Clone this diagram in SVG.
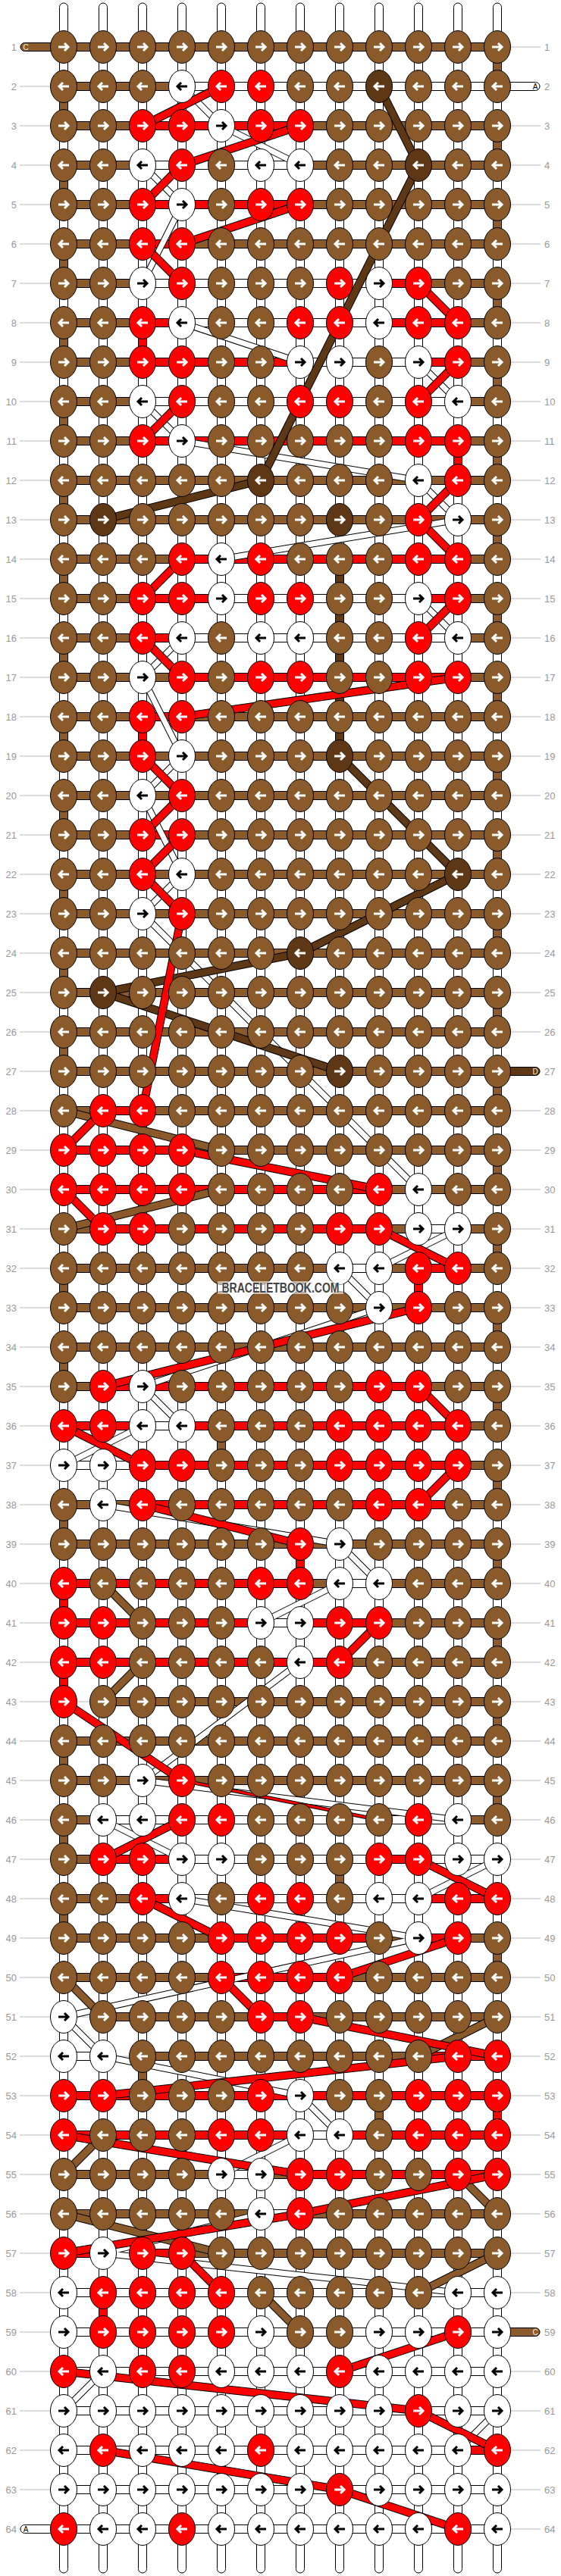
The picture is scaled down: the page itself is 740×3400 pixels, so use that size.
<svg xmlns="http://www.w3.org/2000/svg" xmlns:xlink="http://www.w3.org/1999/xlink" width="740" height="3400" viewBox="0 0 740 3400">
<style>
.k{stroke:#000;stroke-width:1}
.a{fill:none;stroke-width:3}
.hb rect{y:-5.5px;height:11px;stroke:#000;stroke-width:1}
.vs rect{width:11px;height:32px;stroke:#000;stroke-width:1}
.cb{fill:#8B5A2B}.cr{fill:#f00}.cw{fill:#fff}.cd{fill:#5E3715}
.gl{stroke:#bbb;stroke-width:1}
text{font-family:"Liberation Sans",Arial,sans-serif;font-size:13px;fill:#999}
.L{text-anchor:end}
.e{font-size:10px;text-anchor:middle}
</style>
<defs>
<g id="b"><ellipse class="k cb" rx="17.5" ry="21.5"/><path class="a" stroke="#fff" d="M-7 0H6M1-5L6 0L1 5"/></g>
<g id="B"><ellipse class="k cb" rx="17.5" ry="21.5"/><path class="a" stroke="#fff" d="M7 0H-6M-1-5L-6 0L-1 5"/></g>
<g id="r"><ellipse class="k cr" rx="17.5" ry="21.5"/><path class="a" stroke="#fff" d="M-7 0H6M1-5L6 0L1 5"/></g>
<g id="R"><ellipse class="k cr" rx="17.5" ry="21.5"/><path class="a" stroke="#fff" d="M7 0H-6M-1-5L-6 0L-1 5"/></g>
<g id="d"><ellipse class="k cd" rx="17.5" ry="21.5"/><path class="a" stroke="#fff" d="M-7 0H6M1-5L6 0L1 5"/></g>
<g id="D"><ellipse class="k cd" rx="17.5" ry="21.5"/><path class="a" stroke="#fff" d="M7 0H-6M-1-5L-6 0L-1 5"/></g>
<g id="w"><ellipse class="k cw" rx="17.5" ry="21.5"/><path class="a" stroke="#000" d="M-7 0H6M1-5L6 0L1 5"/></g>
<g id="W"><ellipse class="k cw" rx="17.5" ry="21.5"/><path class="a" stroke="#000" d="M7 0H-6M-1-5L-6 0L-1 5"/></g>
<pattern id="lp" width="10" height="52" patternUnits="userSpaceOnUse" y="61.5"><rect width="10" height="1" fill="#bbb"/></pattern>
<g id="gW">
<line x1="240" y1="114" x2="292" y2="166"/><line x1="292" y1="166" x2="396" y2="218"/><line x1="188" y1="218" x2="240" y2="270"/><line x1="240" y1="270" x2="188" y2="374"/><line x1="240" y1="426" x2="396" y2="478"/><line x1="552" y1="478" x2="604" y2="530"/><line x1="188" y1="530" x2="240" y2="582"/><line x1="240" y1="582" x2="552" y2="634"/><line x1="552" y1="634" x2="604" y2="686"/><line x1="604" y1="686" x2="292" y2="738"/><line x1="552" y1="790" x2="604" y2="842"/><line x1="240" y1="842" x2="188" y2="894"/><line x1="188" y1="894" x2="240" y2="998"/><line x1="240" y1="998" x2="188" y2="1050"/><line x1="188" y1="1050" x2="240" y2="1154"/><line x1="240" y1="1154" x2="188" y2="1206"/><line x1="188" y1="1206" x2="292" y2="1310"/><line x1="292" y1="1310" x2="552" y2="1570"/><line x1="604" y1="1622" x2="500" y2="1674"/><line x1="448" y1="1674" x2="500" y2="1726"/><line x1="500" y1="1726" x2="188" y2="1830"/><line x1="188" y1="1830" x2="240" y2="1882"/><line x1="188" y1="1882" x2="84" y2="1934"/><line x1="136" y1="1986" x2="448" y2="2038"/><line x1="448" y1="2038" x2="500" y2="2090"/><line x1="448" y1="2090" x2="344" y2="2142"/><line x1="396" y1="2194" x2="188" y2="2350"/><line x1="188" y1="2350" x2="604" y2="2402"/><line x1="136" y1="2402" x2="240" y2="2454"/><line x1="656" y1="2454" x2="552" y2="2506"/><line x1="240" y1="2506" x2="552" y2="2558"/><line x1="552" y1="2558" x2="84" y2="2662"/><line x1="84" y1="2662" x2="136" y2="2714"/><line x1="136" y1="2714" x2="396" y2="2766"/><line x1="396" y1="2766" x2="448" y2="2818"/><line x1="396" y1="2818" x2="292" y2="2870"/><line x1="344" y1="2922" x2="136" y2="2974"/><line x1="136" y1="2974" x2="604" y2="3026"/><line x1="136" y1="3130" x2="84" y2="3182"/><line x1="656" y1="3182" x2="604" y2="3234"/>
</g>
<g id="gB">
<line x1="84" y1="1466" x2="292" y2="1518"/><line x1="84" y1="1622" x2="292" y2="1570"/><line x1="136" y1="2090" x2="188" y2="2142"/><line x1="188" y1="2194" x2="136" y2="2246"/><line x1="84" y1="2610" x2="136" y2="2662"/><line x1="656" y1="2662" x2="552" y2="2714"/><line x1="136" y1="2818" x2="84" y2="2870"/><line x1="604" y1="2870" x2="656" y2="2922"/><line x1="84" y1="2922" x2="292" y2="2974"/><line x1="656" y1="2974" x2="552" y2="3026"/><line x1="344" y1="3026" x2="396" y2="3078"/>
</g>
<g id="gD">
<polyline points="500,114 552,218 344,634 136,686"/><polyline points="448,998 604,1154 396,1258 136,1310 448,1414"/>
</g>
<g id="gR">
<line x1="188" y1="166" x2="292" y2="114"/><line x1="240" y1="218" x2="396" y2="166"/><line x1="240" y1="218" x2="188" y2="270"/><line x1="240" y1="322" x2="396" y2="270"/><line x1="188" y1="322" x2="240" y2="374"/><line x1="552" y1="374" x2="604" y2="426"/><line x1="604" y1="478" x2="552" y2="530"/><line x1="240" y1="530" x2="188" y2="582"/><line x1="604" y1="634" x2="552" y2="686"/><line x1="552" y1="686" x2="604" y2="738"/><line x1="240" y1="738" x2="188" y2="790"/><line x1="604" y1="790" x2="552" y2="842"/><line x1="188" y1="842" x2="240" y2="894"/><line x1="604" y1="894" x2="240" y2="946"/><line x1="188" y1="998" x2="240" y2="1050"/><line x1="240" y1="1050" x2="188" y2="1102"/><line x1="240" y1="1102" x2="188" y2="1154"/><line x1="188" y1="1154" x2="240" y2="1206"/><line x1="240" y1="1206" x2="188" y2="1466"/><line x1="136" y1="1466" x2="84" y2="1518"/><line x1="240" y1="1518" x2="500" y2="1570"/><line x1="84" y1="1570" x2="136" y2="1622"/><line x1="500" y1="1622" x2="604" y2="1674"/><line x1="552" y1="1726" x2="136" y2="1830"/><line x1="552" y1="1830" x2="604" y2="1882"/><line x1="84" y1="1882" x2="188" y2="1934"/><line x1="604" y1="1934" x2="552" y2="1986"/><line x1="188" y1="1986" x2="396" y2="2038"/><line x1="500" y1="2142" x2="448" y2="2194"/><line x1="84" y1="2246" x2="240" y2="2350"/><line x1="240" y1="2402" x2="136" y2="2454"/><line x1="552" y1="2454" x2="656" y2="2506"/><line x1="188" y1="2506" x2="292" y2="2558"/><line x1="604" y1="2558" x2="448" y2="2610"/><line x1="292" y1="2610" x2="344" y2="2662"/><line x1="396" y1="2662" x2="656" y2="2714"/><line x1="604" y1="2714" x2="136" y2="2766"/><line x1="84" y1="2818" x2="396" y2="2870"/><polyline points="656,2870 396,2922 84,2974"/><line x1="240" y1="2974" x2="292" y2="3026"/><line x1="604" y1="3078" x2="448" y2="3130"/><line x1="84" y1="3130" x2="552" y2="3182"/><line x1="552" y1="3182" x2="656" y2="3234"/><line x1="136" y1="3234" x2="448" y2="3286"/><line x1="448" y1="3286" x2="604" y2="3338"/>
</g>
<g id="gR2"><line x1="240" y1="2350" x2="500" y2="2402"/></g>
</defs>
<rect width="740" height="3400" fill="#fff"/>
<g id="labellines"><rect x="26" y="50" width="44" height="3300" fill="url(#lp)"/><rect x="670" y="50" width="43" height="3300" fill="url(#lp)"/></g>
<g id="strings" fill="#fff" stroke="#000">
<rect x="78.5" y="4" width="11" height="3392" rx="5.5"/><rect x="130.5" y="4" width="11" height="3392" rx="5.5"/><rect x="182.5" y="4" width="11" height="3392" rx="5.5"/><rect x="234.5" y="4" width="11" height="3392" rx="5.5"/><rect x="286.5" y="4" width="11" height="3392" rx="5.5"/><rect x="338.5" y="4" width="11" height="3392" rx="5.5"/><rect x="390.5" y="4" width="11" height="3392" rx="5.5"/><rect x="442.5" y="4" width="11" height="3392" rx="5.5"/><rect x="494.5" y="4" width="11" height="3392" rx="5.5"/><rect x="546.5" y="4" width="11" height="3392" rx="5.5"/><rect x="598.5" y="4" width="11" height="3392" rx="5.5"/><rect x="650.5" y="4" width="11" height="3392" rx="5.5"/>
</g>
<g id="vsegs" class="vs" transform="translate(0.5,0)">
<rect x="650" y="72" class="cb"/><rect x="78" y="124" class="cb"/><rect x="650" y="176" class="cb"/><rect x="78" y="228" class="cb"/><rect x="650" y="280" class="cb"/><rect x="78" y="332" class="cb"/><rect x="650" y="384" class="cb"/><rect x="78" y="436" class="cb"/><rect x="182" y="436" class="cr"/><rect x="650" y="488" class="cb"/><rect x="78" y="540" class="cb"/><rect x="650" y="592" class="cb"/><rect x="598" y="592" class="cr"/><rect x="78" y="644" class="cb"/><rect x="650" y="696" class="cb"/><rect x="78" y="748" class="cb"/><rect x="442" y="748" class="cd"/><rect x="650" y="800" class="cb"/><rect x="442" y="800" class="cd"/><rect x="78" y="852" class="cb"/><rect x="442" y="852" class="cd"/><rect x="650" y="904" class="cb"/><rect x="442" y="904" class="cd"/><rect x="78" y="956" class="cb"/><rect x="182" y="956" class="cr"/><rect x="442" y="956" class="cd"/><rect x="650" y="1008" class="cb"/><rect x="78" y="1060" class="cb"/><rect x="650" y="1112" class="cb"/><rect x="78" y="1164" class="cb"/><rect x="650" y="1216" class="cb"/><rect x="78" y="1268" class="cb"/><rect x="650" y="1320" class="cb"/><rect x="78" y="1372" class="cb"/><rect x="650" y="1424" class="cb"/><rect x="650" y="1528" class="cb"/><rect x="650" y="1632" class="cb"/><rect x="78" y="1684" class="cb"/><rect x="546" y="1684" class="cr"/><rect x="650" y="1736" class="cb"/><rect x="78" y="1788" class="cb"/><rect x="650" y="1840" class="cb"/><rect x="286" y="1892" class="cb"/><rect x="650" y="1944" class="cb"/><rect x="78" y="1996" class="cb"/><rect x="390" y="2048" class="cr"/><rect x="650" y="2048" class="cb"/><rect x="78" y="2100" class="cr"/><rect x="650" y="2152" class="cb"/><rect x="78" y="2204" class="cr"/><rect x="650" y="2256" class="cb"/><rect x="78" y="2308" class="cb"/><rect x="650" y="2360" class="cb"/><rect x="78" y="2412" class="cb"/><rect x="442" y="2464" class="cb"/><rect x="78" y="2516" class="cb"/><rect x="650" y="2568" class="cb"/><rect x="182" y="2724" class="cb"/><rect x="494" y="2776" class="cb"/><rect x="650" y="2776" class="cr"/><rect x="130" y="3036" class="cr"/>
</g>
<g id="bars" class="hb">
<g transform="translate(0,62)"><rect x="27" width="60" rx="5.5" class="cb"/><rect x="84" width="572" class="cb"/><text x="34" y="4" class="e" style="fill:#eee">C</text></g>
<g transform="translate(0,114)"><rect x="84" width="156" class="cb"/><rect x="240" width="416" class="cw"/><rect x="650" width="62" rx="5.5" class="cw"/><text x="706" y="4" class="e" style="fill:#000">A</text></g>
<g transform="translate(0,166)"><rect x="84" width="104" class="cb"/><rect x="188" width="208" class="cr"/><rect x="396" width="260" class="cb"/></g>
<g transform="translate(0,218)"><rect x="84" width="104" class="cb"/><rect x="188" width="208" class="cw"/><rect x="396" width="260" class="cb"/></g>
<g transform="translate(0,270)"><rect x="84" width="104" class="cb"/><rect x="188" width="208" class="cr"/><rect x="396" width="260" class="cb"/></g>
<g transform="translate(0,322)"><rect x="84" width="104" class="cb"/><rect x="188" width="52" class="cr"/><rect x="240" width="416" class="cb"/></g>
<g transform="translate(0,374)"><rect x="84" width="104" class="cb"/><rect x="188" width="312" class="cw"/><rect x="500" width="52" class="cr"/><rect x="552" width="104" class="cb"/></g>
<g transform="translate(0,426)"><rect x="84" width="104" class="cb"/><rect x="188" width="52" class="cr"/><rect x="240" width="260" class="cw"/><rect x="500" width="104" class="cr"/><rect x="604" width="52" class="cb"/></g>
<g transform="translate(0,478)"><rect x="84" width="104" class="cb"/><rect x="188" width="208" class="cr"/><rect x="396" width="156" class="cw"/><rect x="552" width="52" class="cr"/><rect x="604" width="52" class="cb"/></g>
<g transform="translate(0,530)"><rect x="84" width="104" class="cb"/><rect x="188" width="416" class="cw"/><rect x="604" width="52" class="cb"/></g>
<g transform="translate(0,582)"><rect x="84" width="104" class="cb"/><rect x="188" width="416" class="cr"/><rect x="604" width="52" class="cb"/></g>
<g transform="translate(0,634)"><rect x="84" width="572" class="cb"/></g>
<g transform="translate(0,686)"><rect x="84" width="572" class="cb"/></g>
<g transform="translate(0,738)"><rect x="84" width="156" class="cb"/><rect x="240" width="364" class="cr"/><rect x="604" width="52" class="cb"/></g>
<g transform="translate(0,790)"><rect x="84" width="104" class="cb"/><rect x="188" width="104" class="cr"/><rect x="292" width="260" class="cw"/><rect x="552" width="52" class="cr"/><rect x="604" width="52" class="cb"/></g>
<g transform="translate(0,842)"><rect x="84" width="104" class="cb"/><rect x="188" width="52" class="cr"/><rect x="240" width="364" class="cw"/><rect x="604" width="52" class="cb"/></g>
<g transform="translate(0,894)"><rect x="84" width="156" class="cb"/><rect x="240" width="364" class="cr"/><rect x="604" width="52" class="cb"/></g>
<g transform="translate(0,946)"><rect x="84" width="104" class="cb"/><rect x="188" width="52" class="cr"/><rect x="240" width="416" class="cb"/></g>
<g transform="translate(0,998)"><rect x="84" width="572" class="cb"/></g>
<g transform="translate(0,1050)"><rect x="84" width="572" class="cb"/></g>
<g transform="translate(0,1102)"><rect x="84" width="104" class="cb"/><rect x="188" width="52" class="cr"/><rect x="240" width="416" class="cb"/></g>
<g transform="translate(0,1154)"><rect x="84" width="572" class="cb"/></g>
<g transform="translate(0,1206)"><rect x="84" width="572" class="cb"/></g>
<g transform="translate(0,1258)"><rect x="84" width="572" class="cb"/></g>
<g transform="translate(0,1310)"><rect x="84" width="572" class="cb"/></g>
<g transform="translate(0,1362)"><rect x="84" width="572" class="cb"/></g>
<g transform="translate(0,1414)"><rect x="84" width="572" class="cb"/><rect x="650" width="62" rx="5.5" class="cd"/><text x="706" y="4" class="e" style="fill:#eee">D</text></g>
<g transform="translate(0,1466)"><rect x="84" width="52" class="cb"/><rect x="136" width="52" class="cr"/><rect x="188" width="468" class="cb"/></g>
<g transform="translate(0,1518)"><rect x="84" width="156" class="cr"/><rect x="240" width="416" class="cb"/></g>
<g transform="translate(0,1570)"><rect x="84" width="416" class="cr"/><rect x="500" width="156" class="cb"/></g>
<g transform="translate(0,1622)"><rect x="84" width="52" class="cb"/><rect x="136" width="364" class="cr"/><rect x="500" width="52" class="cb"/><rect x="552" width="52" class="cw"/><rect x="604" width="52" class="cb"/></g>
<g transform="translate(0,1674)"><rect x="84" width="364" class="cb"/><rect x="448" width="52" class="cw"/><rect x="500" width="52" class="cb"/><rect x="552" width="52" class="cr"/><rect x="604" width="52" class="cb"/></g>
<g transform="translate(0,1726)"><rect x="84" width="572" class="cb"/></g>
<g transform="translate(0,1778)"><rect x="84" width="572" class="cb"/></g>
<g transform="translate(0,1830)"><rect x="84" width="52" class="cb"/><rect x="136" width="416" class="cr"/><rect x="552" width="104" class="cb"/></g>
<g transform="translate(0,1882)"><rect x="84" width="104" class="cr"/><rect x="188" width="52" class="cw"/><rect x="240" width="364" class="cr"/><rect x="604" width="52" class="cb"/></g>
<g transform="translate(0,1934)"><rect x="84" width="104" class="cw"/><rect x="188" width="416" class="cr"/><rect x="604" width="52" class="cb"/></g>
<g transform="translate(0,1986)"><rect x="84" width="104" class="cb"/><rect x="188" width="416" class="cr"/><rect x="604" width="52" class="cb"/></g>
<g transform="translate(0,2038)"><rect x="84" width="572" class="cb"/></g>
<g transform="translate(0,2090)"><rect x="84" width="312" class="cr"/><rect x="396" width="52" class="cb"/><rect x="448" width="52" class="cw"/><rect x="500" width="156" class="cb"/></g>
<g transform="translate(0,2142)"><rect x="84" width="260" class="cr"/><rect x="344" width="52" class="cw"/><rect x="396" width="104" class="cr"/><rect x="500" width="156" class="cb"/></g>
<g transform="translate(0,2194)"><rect x="84" width="364" class="cr"/><rect x="448" width="208" class="cb"/></g>
<g transform="translate(0,2246)"><line x1="84" x2="136" class="gl"/><rect x="136" width="520" class="cb"/></g>
<g transform="translate(0,2298)"><rect x="84" width="572" class="cb"/></g>
<g transform="translate(0,2350)"><rect x="84" width="572" class="cb"/></g>
<g transform="translate(0,2402)"><rect x="84" width="52" class="cb"/><rect x="136" width="468" class="cw"/><rect x="604" width="52" class="cb"/></g>
<g transform="translate(0,2454)"><rect x="84" width="52" class="cb"/><rect x="136" width="104" class="cr"/><rect x="240" width="260" class="cw"/><rect x="500" width="52" class="cr"/><rect x="552" width="104" class="cw"/></g>
<g transform="translate(0,2506)"><rect x="84" width="104" class="cb"/><rect x="188" width="52" class="cr"/><rect x="240" width="312" class="cw"/><rect x="552" width="104" class="cr"/></g>
<g transform="translate(0,2558)"><rect x="84" width="208" class="cb"/><rect x="292" width="208" class="cr"/><rect x="500" width="52" class="cb"/><rect x="552" width="52" class="cr"/><rect x="604" width="52" class="cb"/></g>
<g transform="translate(0,2610)"><rect x="84" width="208" class="cb"/><rect x="292" width="156" class="cr"/><rect x="448" width="208" class="cb"/></g>
<g transform="translate(0,2662)"><line x1="84" x2="136" class="gl"/><rect x="136" width="208" class="cb"/><rect x="344" width="52" class="cr"/><rect x="396" width="260" class="cb"/></g>
<g transform="translate(0,2714)"><rect x="84" width="52" class="cw"/><line x1="136" x2="188" class="gl"/><rect x="188" width="364" class="cb"/><rect x="552" width="104" class="cr"/></g>
<g transform="translate(0,2766)"><rect x="84" width="572" class="cr"/></g>
<g transform="translate(0,2818)"><rect x="84" width="312" class="cr"/><rect x="396" width="52" class="cw"/><rect x="448" width="208" class="cr"/></g>
<g transform="translate(0,2870)"><rect x="84" width="208" class="cb"/><rect x="292" width="52" class="cw"/><rect x="344" width="52" class="cb"/><rect x="396" width="260" class="cr"/></g>
<g transform="translate(0,2922)"><rect x="84" width="260" class="cb"/><rect x="344" width="52" class="cw"/><rect x="396" width="260" class="cb"/></g>
<g transform="translate(0,2974)"><rect x="84" width="52" class="cr"/><rect x="136" width="52" class="cw"/><rect x="188" width="52" class="cr"/><rect x="240" width="416" class="cb"/></g>
<g transform="translate(0,3026)"><rect x="84" width="572" class="cw"/></g>
<g transform="translate(0,3078)"><rect x="84" width="572" class="cw"/><rect x="650" width="62" rx="5.5" class="cb"/><text x="706" y="4" class="e" style="fill:#eee">C</text></g>
<g transform="translate(0,3130)"><rect x="84" width="572" class="cw"/></g>
<g transform="translate(0,3182)"><rect x="84" width="572" class="cw"/></g>
<g transform="translate(0,3234)"><rect x="84" width="520" class="cw"/><rect x="604" width="52" class="cr"/></g>
<g transform="translate(0,3286)"><rect x="84" width="572" class="cw"/></g>
<g transform="translate(0,3338)"><rect x="27" width="60" rx="5.5" class="cw"/><rect x="84" width="572" class="cw"/><text x="34" y="4" class="e" style="fill:#000">A</text></g>
</g>
<g id="connectors" fill="none" stroke-linejoin="round">
<use href="#gW" stroke="#000" stroke-width="9"/><use href="#gW" stroke="#fff" stroke-width="7"/>
<use href="#gB" stroke="#000" stroke-width="11"/><use href="#gB" stroke="#8B5A2B" stroke-width="9"/>
<use href="#gD" stroke="#000" stroke-width="11"/><use href="#gD" stroke="#5E3715" stroke-width="9"/>
<use href="#gR2" stroke="#000" stroke-width="5"/><use href="#gR2" stroke="#f00" stroke-width="3"/>
<use href="#gR" stroke="#000" stroke-width="11"/><use href="#gR" stroke="#f00" stroke-width="9"/>
</g>
<g id="knots">
<g id="row1" transform="translate(0,62)"><text x="22" y="5" class="L">1</text><text x="718" y="5">1</text><use href="#b" x="84"/><use href="#b" x="136"/><use href="#b" x="188"/><use href="#b" x="240"/><use href="#b" x="292"/><use href="#b" x="344"/><use href="#b" x="396"/><use href="#b" x="448"/><use href="#b" x="500"/><use href="#b" x="552"/><use href="#b" x="604"/><use href="#b" x="656"/></g>
<g id="row2" transform="translate(0,114)"><text x="22" y="5" class="L">2</text><text x="718" y="5">2</text><use href="#B" x="84"/><use href="#B" x="136"/><use href="#B" x="188"/><use href="#W" x="240"/><use href="#R" x="292"/><use href="#R" x="344"/><use href="#B" x="396"/><use href="#B" x="448"/><use href="#D" x="500"/><use href="#B" x="552"/><use href="#B" x="604"/><use href="#B" x="656"/></g>
<g id="row3" transform="translate(0,166)"><text x="22" y="5" class="L">3</text><text x="718" y="5">3</text><use href="#b" x="84"/><use href="#b" x="136"/><use href="#r" x="188"/><use href="#r" x="240"/><use href="#w" x="292"/><use href="#r" x="344"/><use href="#r" x="396"/><use href="#b" x="448"/><use href="#b" x="500"/><use href="#b" x="552"/><use href="#b" x="604"/><use href="#b" x="656"/></g>
<g id="row4" transform="translate(0,218)"><text x="22" y="5" class="L">4</text><text x="718" y="5">4</text><use href="#B" x="84"/><use href="#B" x="136"/><use href="#W" x="188"/><use href="#R" x="240"/><use href="#B" x="292"/><use href="#W" x="344"/><use href="#W" x="396"/><use href="#B" x="448"/><use href="#B" x="500"/><use href="#D" x="552"/><use href="#B" x="604"/><use href="#B" x="656"/></g>
<g id="row5" transform="translate(0,270)"><text x="22" y="5" class="L">5</text><text x="718" y="5">5</text><use href="#b" x="84"/><use href="#b" x="136"/><use href="#r" x="188"/><use href="#w" x="240"/><use href="#b" x="292"/><use href="#r" x="344"/><use href="#r" x="396"/><use href="#b" x="448"/><use href="#b" x="500"/><use href="#b" x="552"/><use href="#b" x="604"/><use href="#b" x="656"/></g>
<g id="row6" transform="translate(0,322)"><text x="22" y="5" class="L">6</text><text x="718" y="5">6</text><use href="#B" x="84"/><use href="#B" x="136"/><use href="#R" x="188"/><use href="#R" x="240"/><use href="#B" x="292"/><use href="#B" x="344"/><use href="#B" x="396"/><use href="#B" x="448"/><use href="#B" x="500"/><use href="#B" x="552"/><use href="#B" x="604"/><use href="#B" x="656"/></g>
<g id="row7" transform="translate(0,374)"><text x="22" y="5" class="L">7</text><text x="718" y="5">7</text><use href="#b" x="84"/><use href="#b" x="136"/><use href="#w" x="188"/><use href="#r" x="240"/><use href="#b" x="292"/><use href="#b" x="344"/><use href="#b" x="396"/><use href="#r" x="448"/><use href="#w" x="500"/><use href="#r" x="552"/><use href="#b" x="604"/><use href="#b" x="656"/></g>
<g id="row8" transform="translate(0,426)"><text x="22" y="5" class="L">8</text><text x="718" y="5">8</text><use href="#B" x="84"/><use href="#B" x="136"/><use href="#R" x="188"/><use href="#W" x="240"/><use href="#B" x="292"/><use href="#B" x="344"/><use href="#R" x="396"/><use href="#R" x="448"/><use href="#W" x="500"/><use href="#R" x="552"/><use href="#R" x="604"/><use href="#B" x="656"/></g>
<g id="row9" transform="translate(0,478)"><text x="22" y="5" class="L">9</text><text x="718" y="5">9</text><use href="#b" x="84"/><use href="#b" x="136"/><use href="#r" x="188"/><use href="#r" x="240"/><use href="#b" x="292"/><use href="#b" x="344"/><use href="#w" x="396"/><use href="#w" x="448"/><use href="#b" x="500"/><use href="#w" x="552"/><use href="#r" x="604"/><use href="#b" x="656"/></g>
<g id="row10" transform="translate(0,530)"><text x="22" y="5" class="L">10</text><text x="718" y="5">10</text><use href="#B" x="84"/><use href="#B" x="136"/><use href="#W" x="188"/><use href="#R" x="240"/><use href="#B" x="292"/><use href="#B" x="344"/><use href="#R" x="396"/><use href="#R" x="448"/><use href="#B" x="500"/><use href="#R" x="552"/><use href="#W" x="604"/><use href="#B" x="656"/></g>
<g id="row11" transform="translate(0,582)"><text x="22" y="5" class="L">11</text><text x="718" y="5">11</text><use href="#b" x="84"/><use href="#b" x="136"/><use href="#r" x="188"/><use href="#w" x="240"/><use href="#b" x="292"/><use href="#b" x="344"/><use href="#b" x="396"/><use href="#b" x="448"/><use href="#b" x="500"/><use href="#r" x="552"/><use href="#r" x="604"/><use href="#b" x="656"/></g>
<g id="row12" transform="translate(0,634)"><text x="22" y="5" class="L">12</text><text x="718" y="5">12</text><use href="#B" x="84"/><use href="#B" x="136"/><use href="#B" x="188"/><use href="#B" x="240"/><use href="#B" x="292"/><use href="#D" x="344"/><use href="#B" x="396"/><use href="#B" x="448"/><use href="#B" x="500"/><use href="#W" x="552"/><use href="#R" x="604"/><use href="#B" x="656"/></g>
<g id="row13" transform="translate(0,686)"><text x="22" y="5" class="L">13</text><text x="718" y="5">13</text><use href="#b" x="84"/><use href="#d" x="136"/><use href="#b" x="188"/><use href="#b" x="240"/><use href="#b" x="292"/><use href="#b" x="344"/><use href="#b" x="396"/><use href="#d" x="448"/><use href="#b" x="500"/><use href="#r" x="552"/><use href="#w" x="604"/><use href="#b" x="656"/></g>
<g id="row14" transform="translate(0,738)"><text x="22" y="5" class="L">14</text><text x="718" y="5">14</text><use href="#B" x="84"/><use href="#B" x="136"/><use href="#B" x="188"/><use href="#R" x="240"/><use href="#W" x="292"/><use href="#R" x="344"/><use href="#B" x="396"/><use href="#B" x="448"/><use href="#B" x="500"/><use href="#R" x="552"/><use href="#R" x="604"/><use href="#B" x="656"/></g>
<g id="row15" transform="translate(0,790)"><text x="22" y="5" class="L">15</text><text x="718" y="5">15</text><use href="#b" x="84"/><use href="#b" x="136"/><use href="#r" x="188"/><use href="#r" x="240"/><use href="#w" x="292"/><use href="#r" x="344"/><use href="#r" x="396"/><use href="#b" x="448"/><use href="#b" x="500"/><use href="#w" x="552"/><use href="#r" x="604"/><use href="#b" x="656"/></g>
<g id="row16" transform="translate(0,842)"><text x="22" y="5" class="L">16</text><text x="718" y="5">16</text><use href="#B" x="84"/><use href="#B" x="136"/><use href="#R" x="188"/><use href="#W" x="240"/><use href="#B" x="292"/><use href="#W" x="344"/><use href="#W" x="396"/><use href="#B" x="448"/><use href="#B" x="500"/><use href="#R" x="552"/><use href="#W" x="604"/><use href="#B" x="656"/></g>
<g id="row17" transform="translate(0,894)"><text x="22" y="5" class="L">17</text><text x="718" y="5">17</text><use href="#b" x="84"/><use href="#b" x="136"/><use href="#w" x="188"/><use href="#r" x="240"/><use href="#b" x="292"/><use href="#r" x="344"/><use href="#r" x="396"/><use href="#b" x="448"/><use href="#b" x="500"/><use href="#r" x="552"/><use href="#r" x="604"/><use href="#b" x="656"/></g>
<g id="row18" transform="translate(0,946)"><text x="22" y="5" class="L">18</text><text x="718" y="5">18</text><use href="#B" x="84"/><use href="#B" x="136"/><use href="#R" x="188"/><use href="#R" x="240"/><use href="#B" x="292"/><use href="#B" x="344"/><use href="#B" x="396"/><use href="#B" x="448"/><use href="#B" x="500"/><use href="#B" x="552"/><use href="#B" x="604"/><use href="#B" x="656"/></g>
<g id="row19" transform="translate(0,998)"><text x="22" y="5" class="L">19</text><text x="718" y="5">19</text><use href="#b" x="84"/><use href="#b" x="136"/><use href="#r" x="188"/><use href="#w" x="240"/><use href="#b" x="292"/><use href="#b" x="344"/><use href="#b" x="396"/><use href="#d" x="448"/><use href="#b" x="500"/><use href="#b" x="552"/><use href="#b" x="604"/><use href="#b" x="656"/></g>
<g id="row20" transform="translate(0,1050)"><text x="22" y="5" class="L">20</text><text x="718" y="5">20</text><use href="#B" x="84"/><use href="#B" x="136"/><use href="#W" x="188"/><use href="#R" x="240"/><use href="#B" x="292"/><use href="#B" x="344"/><use href="#B" x="396"/><use href="#B" x="448"/><use href="#B" x="500"/><use href="#B" x="552"/><use href="#B" x="604"/><use href="#B" x="656"/></g>
<g id="row21" transform="translate(0,1102)"><text x="22" y="5" class="L">21</text><text x="718" y="5">21</text><use href="#b" x="84"/><use href="#b" x="136"/><use href="#r" x="188"/><use href="#r" x="240"/><use href="#b" x="292"/><use href="#b" x="344"/><use href="#b" x="396"/><use href="#b" x="448"/><use href="#b" x="500"/><use href="#b" x="552"/><use href="#b" x="604"/><use href="#b" x="656"/></g>
<g id="row22" transform="translate(0,1154)"><text x="22" y="5" class="L">22</text><text x="718" y="5">22</text><use href="#B" x="84"/><use href="#B" x="136"/><use href="#R" x="188"/><use href="#W" x="240"/><use href="#B" x="292"/><use href="#B" x="344"/><use href="#B" x="396"/><use href="#B" x="448"/><use href="#B" x="500"/><use href="#B" x="552"/><use href="#D" x="604"/><use href="#B" x="656"/></g>
<g id="row23" transform="translate(0,1206)"><text x="22" y="5" class="L">23</text><text x="718" y="5">23</text><use href="#b" x="84"/><use href="#b" x="136"/><use href="#w" x="188"/><use href="#r" x="240"/><use href="#b" x="292"/><use href="#b" x="344"/><use href="#b" x="396"/><use href="#b" x="448"/><use href="#b" x="500"/><use href="#b" x="552"/><use href="#b" x="604"/><use href="#b" x="656"/></g>
<g id="row24" transform="translate(0,1258)"><text x="22" y="5" class="L">24</text><text x="718" y="5">24</text><use href="#B" x="84"/><use href="#B" x="136"/><use href="#B" x="188"/><use href="#B" x="240"/><use href="#B" x="292"/><use href="#B" x="344"/><use href="#D" x="396"/><use href="#B" x="448"/><use href="#B" x="500"/><use href="#B" x="552"/><use href="#B" x="604"/><use href="#B" x="656"/></g>
<g id="row25" transform="translate(0,1310)"><text x="22" y="5" class="L">25</text><text x="718" y="5">25</text><use href="#b" x="84"/><use href="#d" x="136"/><use href="#b" x="188"/><use href="#b" x="240"/><use href="#b" x="292"/><use href="#b" x="344"/><use href="#b" x="396"/><use href="#b" x="448"/><use href="#b" x="500"/><use href="#b" x="552"/><use href="#b" x="604"/><use href="#b" x="656"/></g>
<g id="row26" transform="translate(0,1362)"><text x="22" y="5" class="L">26</text><text x="718" y="5">26</text><use href="#B" x="84"/><use href="#B" x="136"/><use href="#B" x="188"/><use href="#B" x="240"/><use href="#B" x="292"/><use href="#B" x="344"/><use href="#B" x="396"/><use href="#B" x="448"/><use href="#B" x="500"/><use href="#B" x="552"/><use href="#B" x="604"/><use href="#B" x="656"/></g>
<g id="row27" transform="translate(0,1414)"><text x="22" y="5" class="L">27</text><text x="718" y="5">27</text><use href="#b" x="84"/><use href="#b" x="136"/><use href="#b" x="188"/><use href="#b" x="240"/><use href="#b" x="292"/><use href="#b" x="344"/><use href="#b" x="396"/><use href="#d" x="448"/><use href="#b" x="500"/><use href="#b" x="552"/><use href="#b" x="604"/><use href="#b" x="656"/></g>
<g id="row28" transform="translate(0,1466)"><text x="22" y="5" class="L">28</text><text x="718" y="5">28</text><use href="#B" x="84"/><use href="#R" x="136"/><use href="#R" x="188"/><use href="#B" x="240"/><use href="#B" x="292"/><use href="#B" x="344"/><use href="#B" x="396"/><use href="#B" x="448"/><use href="#B" x="500"/><use href="#B" x="552"/><use href="#B" x="604"/><use href="#B" x="656"/></g>
<g id="row29" transform="translate(0,1518)"><text x="22" y="5" class="L">29</text><text x="718" y="5">29</text><use href="#r" x="84"/><use href="#r" x="136"/><use href="#r" x="188"/><use href="#r" x="240"/><use href="#b" x="292"/><use href="#b" x="344"/><use href="#b" x="396"/><use href="#b" x="448"/><use href="#b" x="500"/><use href="#b" x="552"/><use href="#b" x="604"/><use href="#b" x="656"/></g>
<g id="row30" transform="translate(0,1570)"><text x="22" y="5" class="L">30</text><text x="718" y="5">30</text><use href="#R" x="84"/><use href="#R" x="136"/><use href="#R" x="188"/><use href="#R" x="240"/><use href="#B" x="292"/><use href="#B" x="344"/><use href="#B" x="396"/><use href="#B" x="448"/><use href="#R" x="500"/><use href="#W" x="552"/><use href="#B" x="604"/><use href="#B" x="656"/></g>
<g id="row31" transform="translate(0,1622)"><text x="22" y="5" class="L">31</text><text x="718" y="5">31</text><use href="#b" x="84"/><use href="#r" x="136"/><use href="#r" x="188"/><use href="#b" x="240"/><use href="#b" x="292"/><use href="#b" x="344"/><use href="#b" x="396"/><use href="#r" x="448"/><use href="#r" x="500"/><use href="#w" x="552"/><use href="#w" x="604"/><use href="#b" x="656"/></g>
<g id="row32" transform="translate(0,1674)"><text x="22" y="5" class="L">32</text><text x="718" y="5">32</text><use href="#B" x="84"/><use href="#B" x="136"/><use href="#B" x="188"/><use href="#B" x="240"/><use href="#B" x="292"/><use href="#B" x="344"/><use href="#B" x="396"/><use href="#W" x="448"/><use href="#W" x="500"/><use href="#R" x="552"/><use href="#R" x="604"/><use href="#B" x="656"/></g>
<g id="row33" transform="translate(0,1726)"><text x="22" y="5" class="L">33</text><text x="718" y="5">33</text><use href="#b" x="84"/><use href="#b" x="136"/><use href="#b" x="188"/><use href="#b" x="240"/><use href="#b" x="292"/><use href="#b" x="344"/><use href="#b" x="396"/><use href="#b" x="448"/><use href="#w" x="500"/><use href="#r" x="552"/><use href="#b" x="604"/><use href="#b" x="656"/></g>
<g id="row34" transform="translate(0,1778)"><text x="22" y="5" class="L">34</text><text x="718" y="5">34</text><use href="#B" x="84"/><use href="#B" x="136"/><use href="#B" x="188"/><use href="#B" x="240"/><use href="#B" x="292"/><use href="#B" x="344"/><use href="#B" x="396"/><use href="#B" x="448"/><use href="#B" x="500"/><use href="#B" x="552"/><use href="#B" x="604"/><use href="#B" x="656"/></g>
<g id="row35" transform="translate(0,1830)"><text x="22" y="5" class="L">35</text><text x="718" y="5">35</text><use href="#b" x="84"/><use href="#r" x="136"/><use href="#w" x="188"/><use href="#b" x="240"/><use href="#b" x="292"/><use href="#b" x="344"/><use href="#b" x="396"/><use href="#b" x="448"/><use href="#r" x="500"/><use href="#r" x="552"/><use href="#b" x="604"/><use href="#b" x="656"/></g>
<g id="row36" transform="translate(0,1882)"><text x="22" y="5" class="L">36</text><text x="718" y="5">36</text><use href="#R" x="84"/><use href="#R" x="136"/><use href="#W" x="188"/><use href="#W" x="240"/><use href="#B" x="292"/><use href="#B" x="344"/><use href="#B" x="396"/><use href="#R" x="448"/><use href="#R" x="500"/><use href="#R" x="552"/><use href="#R" x="604"/><use href="#B" x="656"/></g>
<g id="row37" transform="translate(0,1934)"><text x="22" y="5" class="L">37</text><text x="718" y="5">37</text><use href="#w" x="84"/><use href="#w" x="136"/><use href="#r" x="188"/><use href="#r" x="240"/><use href="#b" x="292"/><use href="#b" x="344"/><use href="#b" x="396"/><use href="#r" x="448"/><use href="#r" x="500"/><use href="#r" x="552"/><use href="#r" x="604"/><use href="#b" x="656"/></g>
<g id="row38" transform="translate(0,1986)"><text x="22" y="5" class="L">38</text><text x="718" y="5">38</text><use href="#B" x="84"/><use href="#W" x="136"/><use href="#R" x="188"/><use href="#B" x="240"/><use href="#B" x="292"/><use href="#B" x="344"/><use href="#B" x="396"/><use href="#B" x="448"/><use href="#R" x="500"/><use href="#R" x="552"/><use href="#B" x="604"/><use href="#B" x="656"/></g>
<g id="row39" transform="translate(0,2038)"><text x="22" y="5" class="L">39</text><text x="718" y="5">39</text><use href="#b" x="84"/><use href="#b" x="136"/><use href="#b" x="188"/><use href="#b" x="240"/><use href="#b" x="292"/><use href="#b" x="344"/><use href="#r" x="396"/><use href="#w" x="448"/><use href="#b" x="500"/><use href="#b" x="552"/><use href="#b" x="604"/><use href="#b" x="656"/></g>
<g id="row40" transform="translate(0,2090)"><text x="22" y="5" class="L">40</text><text x="718" y="5">40</text><use href="#R" x="84"/><use href="#B" x="136"/><use href="#B" x="188"/><use href="#B" x="240"/><use href="#B" x="292"/><use href="#R" x="344"/><use href="#R" x="396"/><use href="#W" x="448"/><use href="#W" x="500"/><use href="#B" x="552"/><use href="#B" x="604"/><use href="#B" x="656"/></g>
<g id="row41" transform="translate(0,2142)"><text x="22" y="5" class="L">41</text><text x="718" y="5">41</text><use href="#r" x="84"/><use href="#r" x="136"/><use href="#b" x="188"/><use href="#b" x="240"/><use href="#b" x="292"/><use href="#w" x="344"/><use href="#w" x="396"/><use href="#r" x="448"/><use href="#r" x="500"/><use href="#b" x="552"/><use href="#b" x="604"/><use href="#b" x="656"/></g>
<g id="row42" transform="translate(0,2194)"><text x="22" y="5" class="L">42</text><text x="718" y="5">42</text><use href="#R" x="84"/><use href="#R" x="136"/><use href="#B" x="188"/><use href="#B" x="240"/><use href="#B" x="292"/><use href="#B" x="344"/><use href="#W" x="396"/><use href="#R" x="448"/><use href="#B" x="500"/><use href="#B" x="552"/><use href="#B" x="604"/><use href="#B" x="656"/></g>
<g id="row43" transform="translate(0,2246)"><text x="22" y="5" class="L">43</text><text x="718" y="5">43</text><use href="#r" x="84"/><use href="#b" x="136"/><use href="#b" x="188"/><use href="#b" x="240"/><use href="#b" x="292"/><use href="#b" x="344"/><use href="#b" x="396"/><use href="#b" x="448"/><use href="#b" x="500"/><use href="#b" x="552"/><use href="#b" x="604"/><use href="#b" x="656"/></g>
<g id="row44" transform="translate(0,2298)"><text x="22" y="5" class="L">44</text><text x="718" y="5">44</text><use href="#B" x="84"/><use href="#B" x="136"/><use href="#B" x="188"/><use href="#B" x="240"/><use href="#B" x="292"/><use href="#B" x="344"/><use href="#B" x="396"/><use href="#B" x="448"/><use href="#B" x="500"/><use href="#B" x="552"/><use href="#B" x="604"/><use href="#B" x="656"/></g>
<g id="row45" transform="translate(0,2350)"><text x="22" y="5" class="L">45</text><text x="718" y="5">45</text><use href="#b" x="84"/><use href="#b" x="136"/><use href="#w" x="188"/><use href="#r" x="240"/><use href="#b" x="292"/><use href="#b" x="344"/><use href="#b" x="396"/><use href="#b" x="448"/><use href="#b" x="500"/><use href="#b" x="552"/><use href="#b" x="604"/><use href="#b" x="656"/></g>
<g id="row46" transform="translate(0,2402)"><text x="22" y="5" class="L">46</text><text x="718" y="5">46</text><use href="#B" x="84"/><use href="#W" x="136"/><use href="#W" x="188"/><use href="#R" x="240"/><use href="#R" x="292"/><use href="#B" x="344"/><use href="#B" x="396"/><use href="#B" x="448"/><use href="#B" x="500"/><use href="#R" x="552"/><use href="#W" x="604"/><use href="#B" x="656"/></g>
<g id="row47" transform="translate(0,2454)"><text x="22" y="5" class="L">47</text><text x="718" y="5">47</text><use href="#b" x="84"/><use href="#r" x="136"/><use href="#r" x="188"/><use href="#w" x="240"/><use href="#w" x="292"/><use href="#b" x="344"/><use href="#b" x="396"/><use href="#b" x="448"/><use href="#r" x="500"/><use href="#r" x="552"/><use href="#w" x="604"/><use href="#w" x="656"/></g>
<g id="row48" transform="translate(0,2506)"><text x="22" y="5" class="L">48</text><text x="718" y="5">48</text><use href="#B" x="84"/><use href="#B" x="136"/><use href="#R" x="188"/><use href="#W" x="240"/><use href="#B" x="292"/><use href="#R" x="344"/><use href="#R" x="396"/><use href="#B" x="448"/><use href="#W" x="500"/><use href="#W" x="552"/><use href="#R" x="604"/><use href="#R" x="656"/></g>
<g id="row49" transform="translate(0,2558)"><text x="22" y="5" class="L">49</text><text x="718" y="5">49</text><use href="#b" x="84"/><use href="#b" x="136"/><use href="#b" x="188"/><use href="#b" x="240"/><use href="#r" x="292"/><use href="#r" x="344"/><use href="#r" x="396"/><use href="#r" x="448"/><use href="#b" x="500"/><use href="#w" x="552"/><use href="#r" x="604"/><use href="#b" x="656"/></g>
<g id="row50" transform="translate(0,2610)"><text x="22" y="5" class="L">50</text><text x="718" y="5">50</text><use href="#B" x="84"/><use href="#B" x="136"/><use href="#B" x="188"/><use href="#B" x="240"/><use href="#R" x="292"/><use href="#R" x="344"/><use href="#R" x="396"/><use href="#R" x="448"/><use href="#B" x="500"/><use href="#B" x="552"/><use href="#B" x="604"/><use href="#B" x="656"/></g>
<g id="row51" transform="translate(0,2662)"><text x="22" y="5" class="L">51</text><text x="718" y="5">51</text><use href="#w" x="84"/><use href="#b" x="136"/><use href="#b" x="188"/><use href="#b" x="240"/><use href="#b" x="292"/><use href="#r" x="344"/><use href="#r" x="396"/><use href="#b" x="448"/><use href="#b" x="500"/><use href="#b" x="552"/><use href="#b" x="604"/><use href="#b" x="656"/></g>
<g id="row52" transform="translate(0,2714)"><text x="22" y="5" class="L">52</text><text x="718" y="5">52</text><use href="#W" x="84"/><use href="#W" x="136"/><use href="#B" x="188"/><use href="#B" x="240"/><use href="#B" x="292"/><use href="#B" x="344"/><use href="#B" x="396"/><use href="#B" x="448"/><use href="#B" x="500"/><use href="#B" x="552"/><use href="#R" x="604"/><use href="#R" x="656"/></g>
<g id="row53" transform="translate(0,2766)"><text x="22" y="5" class="L">53</text><text x="718" y="5">53</text><use href="#r" x="84"/><use href="#r" x="136"/><use href="#b" x="188"/><use href="#b" x="240"/><use href="#b" x="292"/><use href="#r" x="344"/><use href="#w" x="396"/><use href="#b" x="448"/><use href="#b" x="500"/><use href="#r" x="552"/><use href="#r" x="604"/><use href="#r" x="656"/></g>
<g id="row54" transform="translate(0,2818)"><text x="22" y="5" class="L">54</text><text x="718" y="5">54</text><use href="#R" x="84"/><use href="#B" x="136"/><use href="#B" x="188"/><use href="#B" x="240"/><use href="#R" x="292"/><use href="#R" x="344"/><use href="#W" x="396"/><use href="#W" x="448"/><use href="#B" x="500"/><use href="#R" x="552"/><use href="#R" x="604"/><use href="#R" x="656"/></g>
<g id="row55" transform="translate(0,2870)"><text x="22" y="5" class="L">55</text><text x="718" y="5">55</text><use href="#b" x="84"/><use href="#b" x="136"/><use href="#b" x="188"/><use href="#b" x="240"/><use href="#w" x="292"/><use href="#w" x="344"/><use href="#r" x="396"/><use href="#r" x="448"/><use href="#b" x="500"/><use href="#b" x="552"/><use href="#r" x="604"/><use href="#r" x="656"/></g>
<g id="row56" transform="translate(0,2922)"><text x="22" y="5" class="L">56</text><text x="718" y="5">56</text><use href="#B" x="84"/><use href="#B" x="136"/><use href="#B" x="188"/><use href="#B" x="240"/><use href="#B" x="292"/><use href="#W" x="344"/><use href="#R" x="396"/><use href="#B" x="448"/><use href="#B" x="500"/><use href="#B" x="552"/><use href="#B" x="604"/><use href="#B" x="656"/></g>
<g id="row57" transform="translate(0,2974)"><text x="22" y="5" class="L">57</text><text x="718" y="5">57</text><use href="#r" x="84"/><use href="#w" x="136"/><use href="#r" x="188"/><use href="#r" x="240"/><use href="#b" x="292"/><use href="#b" x="344"/><use href="#b" x="396"/><use href="#b" x="448"/><use href="#b" x="500"/><use href="#b" x="552"/><use href="#b" x="604"/><use href="#b" x="656"/></g>
<g id="row58" transform="translate(0,3026)"><text x="22" y="5" class="L">58</text><text x="718" y="5">58</text><use href="#W" x="84"/><use href="#R" x="136"/><use href="#R" x="188"/><use href="#R" x="240"/><use href="#R" x="292"/><use href="#B" x="344"/><use href="#B" x="396"/><use href="#B" x="448"/><use href="#B" x="500"/><use href="#B" x="552"/><use href="#W" x="604"/><use href="#W" x="656"/></g>
<g id="row59" transform="translate(0,3078)"><text x="22" y="5" class="L">59</text><text x="718" y="5">59</text><use href="#w" x="84"/><use href="#r" x="136"/><use href="#r" x="188"/><use href="#r" x="240"/><use href="#r" x="292"/><use href="#w" x="344"/><use href="#b" x="396"/><use href="#b" x="448"/><use href="#w" x="500"/><use href="#w" x="552"/><use href="#r" x="604"/><use href="#w" x="656"/></g>
<g id="row60" transform="translate(0,3130)"><text x="22" y="5" class="L">60</text><text x="718" y="5">60</text><use href="#R" x="84"/><use href="#W" x="136"/><use href="#R" x="188"/><use href="#R" x="240"/><use href="#W" x="292"/><use href="#W" x="344"/><use href="#W" x="396"/><use href="#R" x="448"/><use href="#W" x="500"/><use href="#W" x="552"/><use href="#W" x="604"/><use href="#W" x="656"/></g>
<g id="row61" transform="translate(0,3182)"><text x="22" y="5" class="L">61</text><text x="718" y="5">61</text><use href="#w" x="84"/><use href="#w" x="136"/><use href="#w" x="188"/><use href="#w" x="240"/><use href="#w" x="292"/><use href="#w" x="344"/><use href="#w" x="396"/><use href="#w" x="448"/><use href="#w" x="500"/><use href="#r" x="552"/><use href="#w" x="604"/><use href="#w" x="656"/></g>
<g id="row62" transform="translate(0,3234)"><text x="22" y="5" class="L">62</text><text x="718" y="5">62</text><use href="#W" x="84"/><use href="#R" x="136"/><use href="#W" x="188"/><use href="#W" x="240"/><use href="#W" x="292"/><use href="#R" x="344"/><use href="#W" x="396"/><use href="#W" x="448"/><use href="#W" x="500"/><use href="#W" x="552"/><use href="#W" x="604"/><use href="#R" x="656"/></g>
<g id="row63" transform="translate(0,3286)"><text x="22" y="5" class="L">63</text><text x="718" y="5">63</text><use href="#w" x="84"/><use href="#w" x="136"/><use href="#w" x="188"/><use href="#w" x="240"/><use href="#w" x="292"/><use href="#w" x="344"/><use href="#w" x="396"/><use href="#r" x="448"/><use href="#w" x="500"/><use href="#w" x="552"/><use href="#w" x="604"/><use href="#w" x="656"/></g>
<g id="row64" transform="translate(0,3338)"><text x="22" y="5" class="L">64</text><text x="718" y="5">64</text><use href="#R" x="84"/><use href="#W" x="136"/><use href="#W" x="188"/><use href="#R" x="240"/><use href="#W" x="292"/><use href="#W" x="344"/><use href="#W" x="396"/><use href="#W" x="448"/><use href="#W" x="500"/><use href="#W" x="552"/><use href="#R" x="604"/><use href="#W" x="656"/></g>
</g>
<g id="watermark">
<rect x="287" y="1691" width="166" height="17" fill="#fff" fill-opacity="0.55"/>
<text x="370" y="1706" text-anchor="middle" textLength="155" lengthAdjust="spacingAndGlyphs" style="font-size:18px;font-weight:bold;fill:#444;stroke:#fff;stroke-opacity:0.6;stroke-width:1.5;paint-order:stroke">BRACELETBOOK.COM</text>
</g>
</svg>
